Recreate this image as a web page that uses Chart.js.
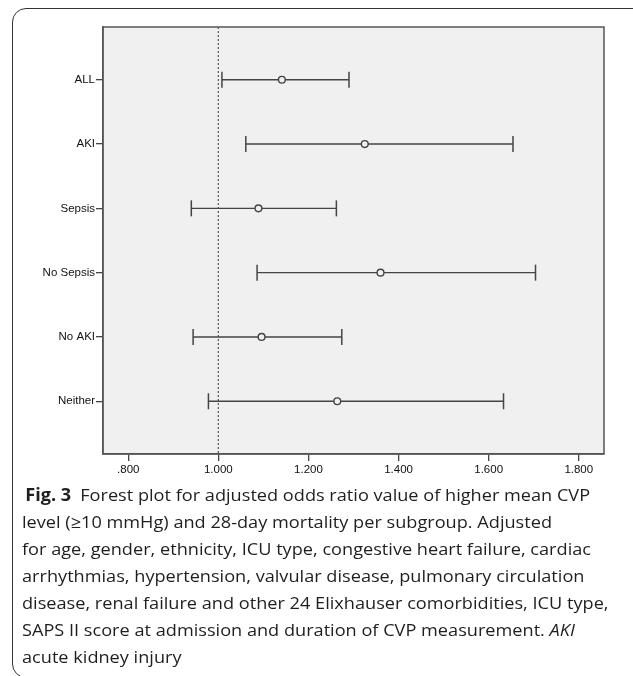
<!DOCTYPE html>
<html>
<head>
<meta charset="utf-8">
<script src="https://cdn.jsdelivr.net/npm/chart.js@4.4.1/dist/chart.umd.min.js"></script>
<style>
html, body { margin: 0; padding: 0; background: #fff; width: 633px; height: 676px; overflow: hidden; }
#moldura { position: absolute; left: 12px; top: 8px; width: 640px; height: 670px; border: 1.5px solid #333; border-radius: 14px; box-sizing: border-box; }
#grafico { position: absolute; left: 0; top: 0; }
#legenda { position: absolute; left: 22px; top: 481px; font-family: 'Open Sans', sans-serif; font-size: 17px; color: #1e1e1e; line-height: 27px; white-space: nowrap; transform-origin: 0 0; }
#legenda b { font-weight: 700; margin-right: 4px; }
</style>
</head>
<body>
<div id="moldura"></div>
<canvas id="grafico" width="633" height="485"></canvas>
<div id="legenda">
  <div id="linha1" style="padding-left:3px"><b>Fig. 3</b> Forest plot for adjusted odds ratio value of higher mean CVP</div>
  <div>level (≥10 mmHg) and 28-day mortality per subgroup. Adjusted</div>
  <div>for age, gender, ethnicity, ICU type, congestive heart failure, cardiac</div>
  <div>arrhythmias, hypertension, valvular disease, pulmonary circulation</div>
  <div id="linhaLarga">disease, renal failure and other 24 Elixhauser comorbidities, ICU type,</div>
  <div>SAPS II score at admission and duration of CVP measurement. <i>AKI</i></div>
  <div>acute kidney injury</div>
</div>
<script>
// Dados (odds ratio ajustado e IC 95%)
const categorias = ['ALL', 'AKI', 'Sepsis', 'No Sepsis', 'No AKI', 'Neither'];
const oddsRatio = [1.141, 1.325, 1.089, 1.360, 1.096, 1.264];
const limiteInferior = [1.008, 1.061, 0.940, 1.086, 0.944, 0.978];
const limiteSuperior = [1.290, 1.654, 1.262, 1.704, 1.274, 1.633];
const ticksX = [0.8, 1.0, 1.2, 1.4, 1.6, 1.8];
const rotulosX = ['.800', '1.000', '1.200', '1.400', '1.600', '1.800'];
const valorReferencia = 1.0;

const X_MIN = 0.744, X_MAX = 1.856;
const Y_MIN = 0.18, Y_MAX = 6.82;
const COR_LINHA = '#444';
const FUNDO = '#f0f0f0';

// fundo cinzento e moldura da área do gráfico
const fundoPlot = {
    id: 'fundoPlot',
    beforeDraw(chart) {
        const { ctx, chartArea: a } = chart;
        ctx.save();
        ctx.fillStyle = FUNDO;
        ctx.fillRect(a.left, a.top, a.right - a.left, a.bottom - a.top);
        ctx.restore();
    },
    afterDraw(chart) {
        const { ctx, chartArea: a } = chart;
        ctx.save();
        ctx.strokeStyle = '#555';
        ctx.lineWidth = 1.5;
        ctx.strokeRect(a.left, a.top, a.right - a.left, a.bottom - a.top);
        ctx.restore();
    }
};

// uma linha por subgrupo com os "bigodes" nas pontas
const intervalos = categorias.map((c, i) => ({
    type: 'line',
    label: c,
    data: [{ x: limiteInferior[i], y: i + 1 }, { x: limiteSuperior[i], y: i + 1 }],
    showLine: true,
    borderColor: COR_LINHA,
    borderWidth: 1.4,
    pointStyle: 'line',
    pointRotation: 90,
    pointRadius: 8,
    pointBorderColor: COR_LINHA,
    pointBorderWidth: 1.5,
    order: 1
}));

const pontos = {
    type: 'scatter',
    label: 'OR',
    data: categorias.map((c, i) => ({ x: oddsRatio[i], y: i + 1 })),
    pointStyle: 'circle',
    pointRadius: 3.4,
    borderWidth: 1.4,
    borderColor: COR_LINHA,
    backgroundColor: FUNDO,
    order: 0
};

const referencia = {
    type: 'line',
    label: 'ref',
    data: [{ x: valorReferencia, y: Y_MIN }, { x: valorReferencia, y: Y_MAX }],
    showLine: true,
    borderColor: '#555',
    borderWidth: 1.2,
    borderDash: [2, 2],
    pointRadius: 0,
    order: 2
};

const fonteEixo = { family: "'Liberation Sans', Arial, sans-serif", size: 11.5 };

new Chart(document.getElementById('grafico'), {
    type: 'scatter',
    data: { datasets: [pontos, ...intervalos, referencia] },
    options: {
        responsive: false,
        animation: false,
        layout: { padding: { left: 0, right: 29, top: 27, bottom: 0 } },
        plugins: { legend: { display: false }, tooltip: { enabled: false } },
        scales: {
            x: {
                type: 'linear',
                min: X_MIN,
                max: X_MAX,
                afterBuildTicks: s => { s.ticks = ticksX.map(v => ({ value: v })); },
                afterFit: s => { s.height = 31; },
                ticks: {
                    callback: (v, i) => rotulosX[i],
                    color: '#111',
                    font: fonteEixo,
                    padding: 2,
                    maxRotation: 0,
                    autoSkip: false
                },
                grid: { drawOnChartArea: false, drawTicks: true, tickLength: 7, color: '#444', lineWidth: 1.3 },
                border: { display: true, color: '#555', width: 1.5 }
            },
            y: {
                type: 'linear',
                reverse: true,
                min: Y_MIN,
                max: Y_MAX,
                afterBuildTicks: s => { s.ticks = categorias.map((c, i) => ({ value: i + 1 })); },
                afterFit: s => { s.width = 103; },
                ticks: {
                    callback: (v, i) => categorias[i],
                    color: '#111',
                    font: fonteEixo,
                    padding: 1,
                    autoSkip: false
                },
                grid: { drawOnChartArea: false, drawTicks: true, tickLength: 7, color: '#444', lineWidth: 1.3 },
                border: { display: true, color: '#555', width: 1.5 }
            }
        }
    },
    plugins: [fundoPlot]
});

// ajusta a largura da legenda à da figura original
function ajustarLegenda() {
    const linha = document.getElementById('linhaLarga');
    const larguraAlvo = 586;
    const escala = larguraAlvo / linha.scrollWidth;
    document.getElementById('legenda').style.transform = `scaleX(${escala})`;
}
if (document.fonts && document.fonts.ready) document.fonts.ready.then(ajustarLegenda);
ajustarLegenda();
</script>
</body>
</html>
